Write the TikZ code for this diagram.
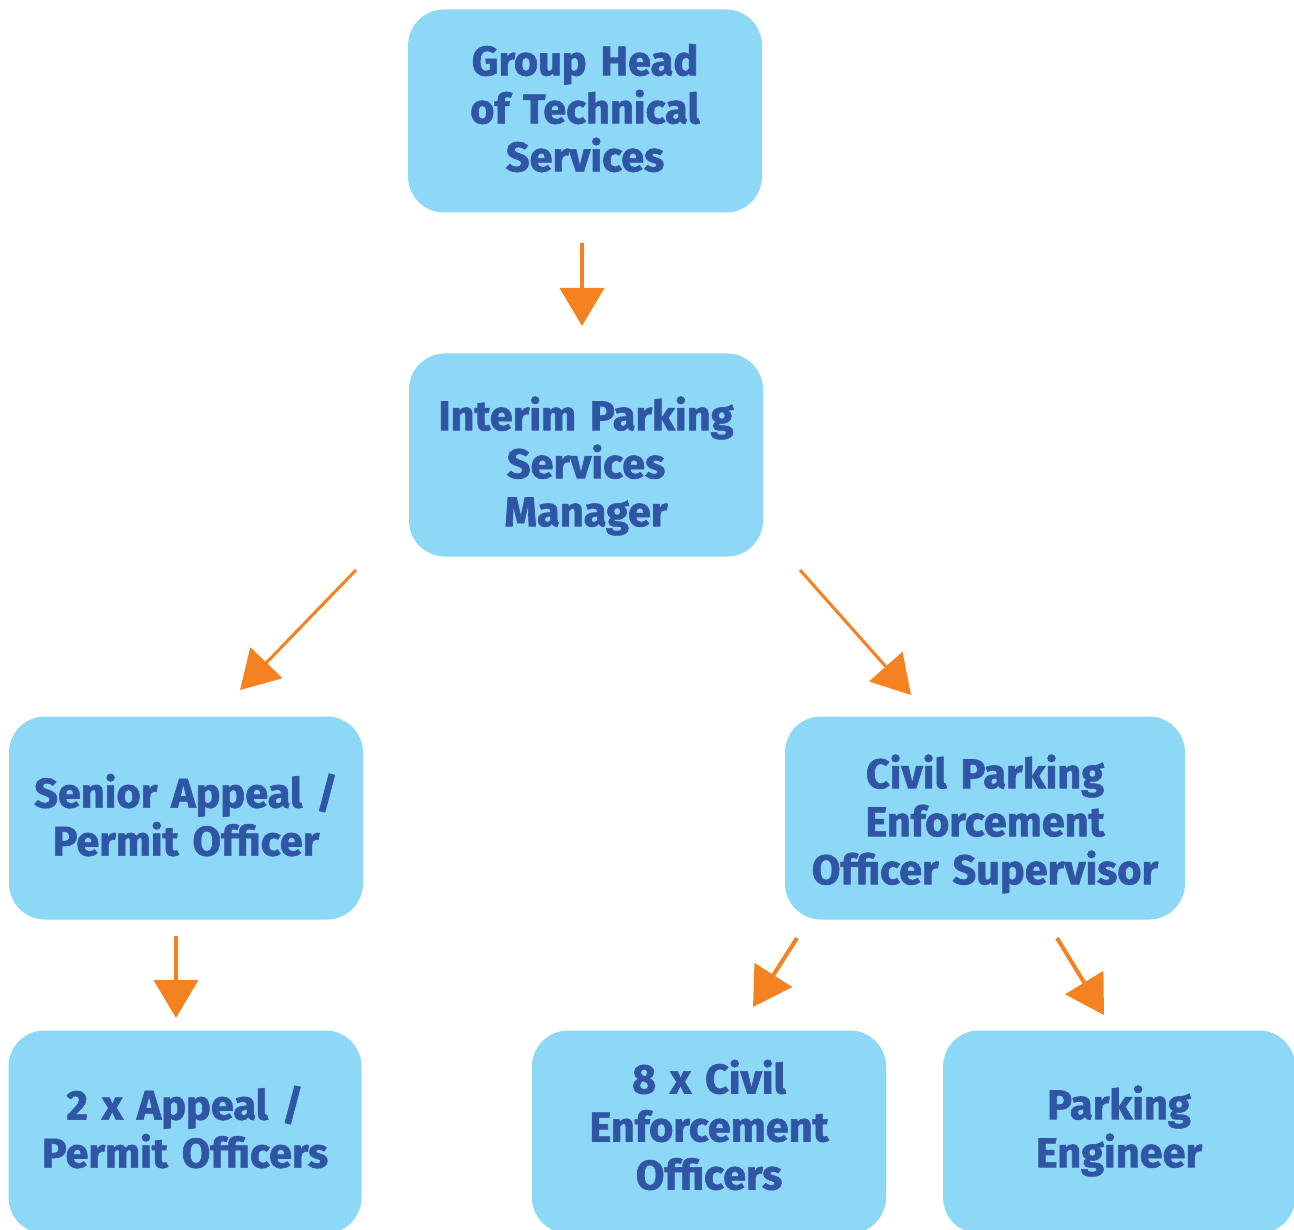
\documentclass[tikz,border=0pt]{standalone}
\usepackage{fontspec}
\setmainfont{Fira Sans}[BoldFeatures={FakeBold=1.4}]
\usetikzlibrary{arrows.meta}
\definecolor{boxblue}{HTML}{8DD8F6}
\definecolor{txtblue}{HTML}{2F55A4}
\definecolor{arrorange}{HTML}{F58220}
\tikzset{
  orgbox/.style={rectangle, rounded corners=36pt, fill=boxblue, minimum width=354pt, minimum height=203pt, inner sep=0pt},
  orgtext/.style={text width=396pt, align=center, text=txtblue, font=\fontsize{41.5}{48}\selectfont\bfseries, inner sep=0pt},
  orgarrow/.style={draw=arrorange, line width=4pt, -{Triangle[length=38pt,width=44pt]}},
  diagarrow/.style={orgarrow, line width=3pt}
}
\begin{document}
\begin{tikzpicture}[x=1pt,y=-1pt]
\useasboundingbox (0,0) rectangle (1294,1230);
\clip (0,0) rectangle (1294,1230);
\node[orgbox] (gh) at (585,111) {};
\node[orgbox] (ip) at (586,455) {};
\node[orgbox] (sa) at (186,818) {};
\node[orgbox, minimum width=400pt] (cp) at (985,818) {};
\node[orgbox, minimum width=353pt] (ap) at (185,1132) {};
\node[orgbox] (ce) at (709,1132) {};
\node[orgbox, minimum width=352pt] (pe) at (1119,1132) {};
\node[orgtext] (ght) at ([yshift=3pt]gh.center) {Group Head\\of Technical\\Services};
\node[orgtext] (ipt) at ([yshift=-11pt]ip.center) {Interim Parking\\Services\\Manager};
\node[orgtext] (sat) at ([yshift=3pt]sa.center) {Senior Appeal /\\Permit Officer};
\node[orgtext] (cpt) at ([yshift=-6pt]cp.center) {Civil Parking\\Enforcement\\Officer Supervisor};
\node[orgtext] (apt) at ([yshift=5pt]ap.center) {2 x Appeal /\\Permit Officers};
\node[orgtext] (cet) at ([yshift=7pt]ce.center) {8 x Civil\\Enforcement\\Officers};
\node[orgtext] (pet) at ([yshift=1pt]pe.center) {Parking\\Engineer};
\coordinate (a1s) at (582,243); \coordinate (a1e) at (582,326);
\coordinate (a2s) at (356,570); \coordinate (a2e) at (240,690);
\coordinate (a3s) at (800,570); \coordinate (a3e) at (911,695);
\coordinate (a4s) at (176,936); \coordinate (a4e) at (176,1018);
\coordinate (a5s) at (797,938); \coordinate (a5e) at (753,1007);
\coordinate (a6s) at (1057,938); \coordinate (a6e) at (1104,1015);
\draw[orgarrow] (a1s) -- (a1e);
\draw[diagarrow] (a2s) -- (a2e);
\draw[diagarrow] (a3s) -- (a3e);
\draw[orgarrow] (a4s) -- (a4e);
\draw[orgarrow] (a5s) -- (a5e);
\draw[orgarrow] (a6s) -- (a6e);
\end{tikzpicture}
\end{document}
